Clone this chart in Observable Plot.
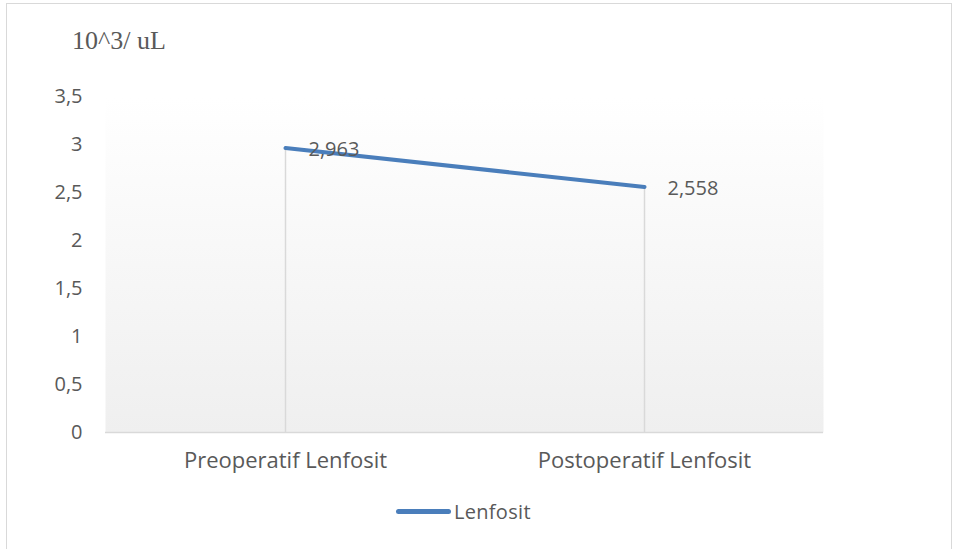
<!DOCTYPE html>
<html>
<head>
<meta charset="utf-8">
<script src="https://cdn.jsdelivr.net/npm/d3@7"></script>
<script src="https://cdn.jsdelivr.net/npm/@observablehq/plot@0.6"></script>
<style>
  html, body { margin: 0; padding: 0; background: #fff; }
  #wrap { position: relative; width: 958px; height: 549px; overflow: hidden; }
  #border { position: absolute; left: 6px; top: 3px; width: 946px; height: 560px; border: 1.5px solid #d9d9d9; box-sizing: border-box; }
  #title { position: absolute; left: 72px; top: 26px; font-family: "Liberation Serif", serif; font-size: 26px; color: #595959; }
  #legend { position: absolute; left: 396px; top: 498px; display: flex; align-items: center; font-family: "Open Sans", sans-serif; font-size: 20px; letter-spacing: 0.3px; color: #595959; }
  #legend .sw { width: 55px; height: 4.5px; border-radius: 3px; background: #4a7ebb; margin-right: 3px; }
  #chart { position: absolute; left: 0; top: 0; }
</style>
</head>
<body>
<div id="wrap">
  <div id="chart"></div>
  <div id="border"></div>
  <div id="title">10^3/ uL</div>
  <div id="legend"><div class="sw"></div><span id="legtext"></span></div>
</div>
<script>
const categories = ["Preoperatif Lenfosit", "Postoperatif Lenfosit"];
const values = [2.963, 2.558];
const valueLabels = ["2,963", "2,558"];
const seriesName = "Lenfosit";
const yTicks = [0, 0.5, 1, 1.5, 2, 2.5, 3, 3.5];

const data = categories.map((c, i) => ({cat: c, v: values[i], label: valueLabels[i]}));
document.getElementById("legtext").textContent = seriesName;

const fmt = d => String(d).replace(".", ",");

const plot = Plot.plot({
  width: 958,
  height: 549,
  marginLeft: 105,
  marginRight: 135,
  marginTop: 96,
  marginBottom: 117,
  style: {fontFamily: "'Open Sans', sans-serif", fontSize: "20px", color: "#595959", background: "transparent"},
  x: {type: "point", domain: categories, padding: 0.5, label: null},
  y: {domain: [0, 3.5], label: null},
  marks: [
    Plot.frame({fill: "url(#bggrad)", stroke: "none"}),
    Plot.ruleY([0], {stroke: "#d9d9d9", strokeWidth: 1.5}),
    Plot.ruleX(data, {x: "cat", y1: 0, y2: "v", stroke: "#d9d9d9", strokeWidth: 1.5}),
    Plot.line(data, {x: "cat", y: "v", stroke: "#4a7ebb", strokeWidth: 4, strokeLinecap: "round"}),
    Plot.text(data, {x: "cat", y: "v", text: "label", textAnchor: "start", dx: 23, dy: 2, fill: "#595959", fontSize: 20, letterSpacing: "0.5px"}),
    Plot.axisY(yTicks, {tickSize: 0, tickPadding: 23, tickFormat: fmt, fontSize: 20, fill: "#595959"}),
    Plot.axisX({tickSize: 0, tickPadding: 20, fontSize: 22, fill: "#595959"})
  ]
});

const svg = d3.select(plot);
const defs = svg.insert("defs", ":first-child");
const g = defs.append("linearGradient").attr("id", "bggrad").attr("x1", 0).attr("y1", 0).attr("x2", 0).attr("y2", 1);
g.append("stop").attr("offset", "0%").attr("stop-color", "#ffffff");
g.append("stop").attr("offset", "100%").attr("stop-color", "#efefef");

document.getElementById("chart").appendChild(plot);
</script>
</body>
</html>
